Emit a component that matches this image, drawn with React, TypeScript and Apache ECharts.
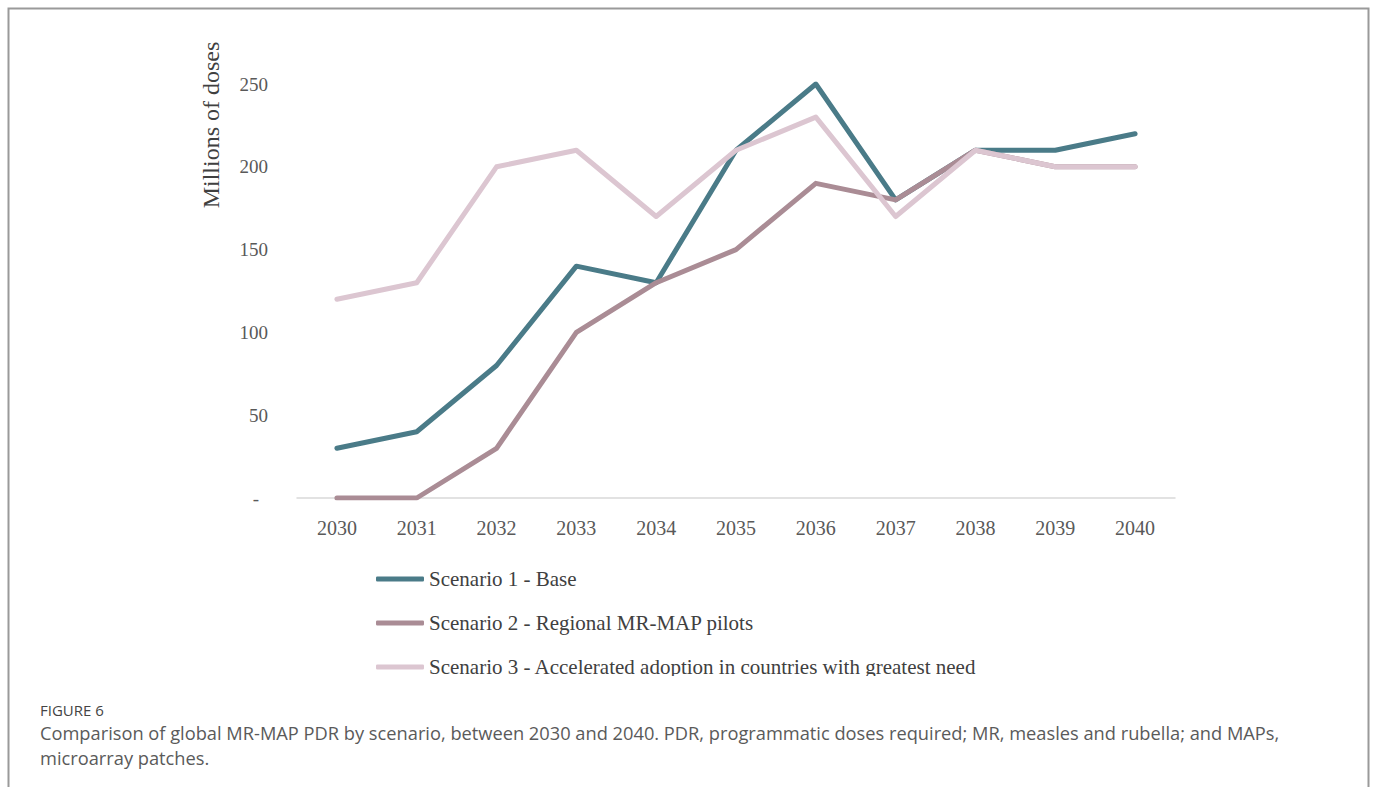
import React, { useEffect, useRef } from "react";
import * as echarts from "echarts";

const years = ["2030", "2031", "2032", "2033", "2034", "2035", "2036", "2037", "2038", "2039", "2040"];
const scenario1 = [30, 40, 80, 140, 130, 210, 250, 180, 210, 210, 220];
const scenario2 = [0, 0, 30, 100, 130, 150, 190, 180, 210, 200, 200];
const scenario3 = [120, 130, 200, 210, 170, 210, 230, 170, 210, 200, 200];
const seriesNames = [
  "Scenario 1 - Base",
  "Scenario 2 - Regional MR-MAP pilots",
  "Scenario 3 - Accelerated adoption in countries with greatest need",
];
const seriesColors = ["#4A7B88", "#AA8C95", "#DCC6D1"];
const yAxisTitle = "Millions of doses";
const figureLabel = "FIGURE 6";
const captionText =
  "Comparison of global MR-MAP PDR by scenario, between 2030 and 2040. PDR, programmatic doses required; MR, measles and rubella; and MAPs,\nmicroarray patches.";

const serif = "'Liberation Serif', 'DejaVu Serif', serif";
const sans = "'Open Sans', 'Noto Sans', sans-serif";

export default function App() {
  const ref = useRef<HTMLDivElement>(null);
  useEffect(() => {
    if (!ref.current) return;
    const chart = echarts.init(ref.current, null, { renderer: "svg" });
    const data = [scenario1, scenario2, scenario3];
    chart.setOption({
      animation: false,
      backgroundColor: "#ffffff",
      grid: { left: 297, right: 198, top: 84, bottom: 289, containLabel: false },
      xAxis: {
        type: "category",
        data: years,
        boundaryGap: true,
        axisLine: { show: true, lineStyle: { color: "#d9d9d9", width: 1.5 } },
        axisTick: { show: false },
        axisLabel: { color: "#595959", fontFamily: serif, fontSize: 20, margin: 20 },
        splitLine: { show: false },
      },
      yAxis: {
        type: "value",
        min: 0,
        max: 250,
        interval: 50,
        axisLine: { show: false },
        axisTick: { show: false },
        splitLine: { show: false },
        axisLabel: {
          color: "#595959",
          fontFamily: serif,
          fontSize: 19,
          margin: 29,
          formatter: (v: number) => (v === 0 ? "{d|-}" : String(v)),
          rich: { d: { color: "#595959", fontFamily: serif, fontSize: 19, padding: [0, 9, 0, 0] } },
        },
      },
      legend: {
        orient: "vertical",
        left: 376,
        top: 567,
        padding: 0,
        itemGap: 20,
        itemWidth: 48,
        itemHeight: 5,
        icon: "roundRect",
        data: seriesNames,
        textStyle: { color: "#404040", fontFamily: serif, fontSize: 21, lineHeight: 24 },
      },
      series: data.map((d, i) => ({
        name: seriesNames[i],
        type: "line",
        data: d,
        showSymbol: false,
        symbol: "none",
        color: seriesColors[i],
        lineStyle: { color: seriesColors[i], width: 5, cap: "round", join: "round" },
      })),
      graphic: [
        {
          type: "rect",
          left: 6,
          top: 6,
          shape: { x: 0, y: 0, width: 1360, height: 800 },
          style: { fill: "none", stroke: "#9a9a9a", lineWidth: 2 },
          silent: true,
          z: 0,
        },
        {
          type: "text",
          x: 211,
          y: 125,
          rotation: Math.PI / 2,
          style: {
            text: yAxisTitle,
            fill: "#404040",
            font: `24px ${serif}`,
            align: "center",
            verticalAlign: "middle",
          },
        },
        {
          type: "rect",
          shape: { x: 370, y: 676, width: 700, height: 14 },
          style: { fill: "#ffffff" },
          z: 100,
          silent: true,
        },
        {
          type: "text",
          x: 40,
          y: 710,
          style: {
            text: figureLabel,
            fill: "#444444",
            font: `15px ${sans}`,
            verticalAlign: "middle",
          },
        },
        {
          type: "text",
          x: 40,
          y: 720,
          style: {
            text: captionText,
            fill: "#5a5a5a",
            font: `18.25px ${sans}`,
            lineHeight: 25,
            verticalAlign: "top",
          },
        },
      ],
    });
    return () => chart.dispose();
  }, []);
  return (
    <div style={{ position: "absolute", left: 0, top: 0, width: 1373, height: 787, background: "#fff" }}>
      <div ref={ref} style={{ width: 1373, height: 787 }} />
    </div>
  );
}
